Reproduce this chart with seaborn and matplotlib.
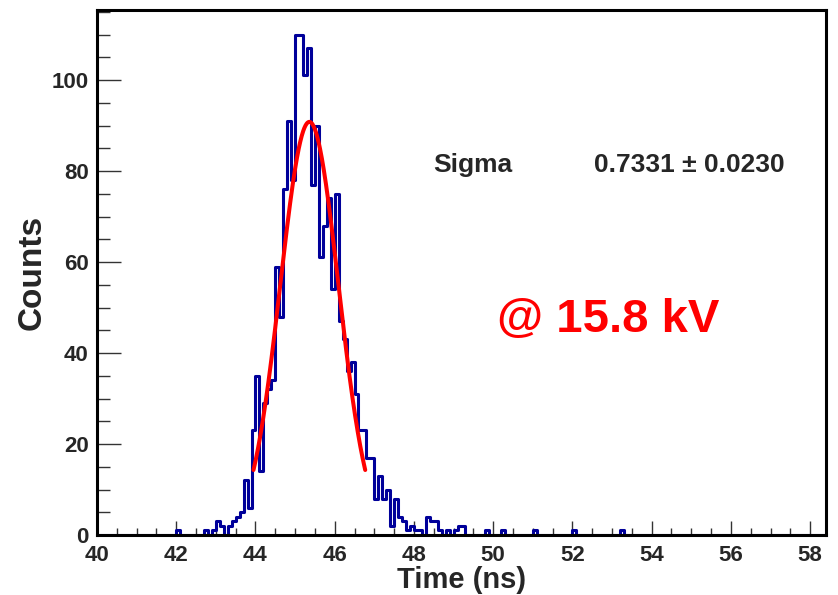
import numpy as np
import pandas as pd
import seaborn as sns
import matplotlib
matplotlib.use("Agg")
import matplotlib.pyplot as plt
from matplotlib.ticker import MultipleLocator

# ---- data (bin width 0.1 ns, range 40 - 58.4 ns) ----
bin_low = 40.0
bin_high = 58.4
bin_width = 0.1

# centres of non-empty bins and their counts
time_centres = [
    42.05, 42.75, 42.95, 43.05, 43.15, 43.35, 43.45, 43.55, 43.65,
    43.75, 43.85, 43.95, 44.05, 44.15, 44.25, 44.35, 44.45, 44.55, 44.65,
    44.75, 44.85, 44.95, 45.05, 45.15, 45.25, 45.35, 45.45, 45.55, 45.65,
    45.75, 45.85, 45.95, 46.05, 46.15, 46.25, 46.35, 46.45, 46.55, 46.65,
    46.75, 46.85, 46.95, 47.05, 47.15, 47.25, 47.35, 47.45, 47.55, 47.65,
    47.75, 47.85, 47.95, 48.05, 48.15, 48.35, 48.45, 48.55, 48.65,
    48.85, 49.05, 49.15, 49.25, 49.85, 50.25, 51.05, 52.05, 53.25,
]
counts = [
    1, 1, 1, 3, 2, 2, 3, 4, 5,
    12, 6, 23, 35, 14, 29, 32, 34, 59, 48,
    76, 91, 78, 110, 110, 101, 107, 77, 90, 61,
    68, 74, 54, 75, 47, 43, 36, 38, 31, 23,
    23, 17, 17, 8, 13, 8, 10, 2, 8, 4,
    3, 1, 2, 1, 1, 4, 3, 3, 1,
    1, 1, 2, 2, 1, 1, 1, 1, 1,
]

# Gaussian fit parameters (constant, mean, sigma) and fit range
fit_constant = 90.8
fit_mean = 45.36
fit_sigma = 0.7331
fit_sigma_err = 0.0230
fit_range = [43.95, 46.77]

x_ticks = [40, 42, 44, 46, 48, 50, 52, 54, 56, 58]
y_ticks = [0, 20, 40, 60, 80, 100]
annotation = "@ 15.8 kV"

# ---- build tables ----
edges = [round(v, 2) for v in np.arange(bin_low, bin_high + bin_width / 2, bin_width)]
df = pd.DataFrame({"time": time_centres, "counts": counts})
xf = np.linspace(fit_range[0], fit_range[1], 300)
fit_df = pd.DataFrame({"time": xf,
                       "fit": fit_constant * np.exp(-0.5 * ((xf - fit_mean) / fit_sigma) ** 2)})

# ---- style ----
sns.set_theme(style="white")
plt.rcParams["font.family"] = ["Liberation Sans", "DejaVu Sans"]
plt.rcParams["font.weight"] = "bold"

W, H = 838, 595
fig = plt.figure(figsize=(W / 100, H / 100), dpi=100)
ax = fig.add_axes([97 / W, 1 - 535 / H, (826 - 97) / W, (535 - 9.5) / H])

sns.histplot(data=df, x="time", weights="counts", bins=edges, element="step",
             fill=False, color="#00009a", linewidth=2.2, ax=ax)
sns.lineplot(data=fit_df, x="time", y="fit", color="#ff0000", linewidth=2.9, ax=ax)

ax.set_xlim(bin_low, bin_high)
ax.set_ylim(0, 115.5)
ax.set_xticks(x_ticks)
ax.set_yticks(y_ticks)
ax.xaxis.set_minor_locator(MultipleLocator(0.5))
ax.yaxis.set_minor_locator(MultipleLocator(5))
ax.tick_params(axis="x", which="major", direction="in", length=10, width=1.0,
               color="#333333", labelsize=16, pad=7, bottom=True)
ax.tick_params(axis="x", which="minor", direction="in", length=5, width=1.0,
               color="#333333", bottom=True)
ax.tick_params(axis="y", which="major", direction="in", length=17, width=1.0,
               color="#333333", labelsize=16, pad=6, left=True)
ax.tick_params(axis="y", which="minor", direction="in", length=9, width=1.0,
               color="#333333", left=True)
for lab in ax.get_xticklabels() + ax.get_yticklabels():
    lab.set_fontweight("bold")

for side in ["left", "bottom", "right", "top"]:
    ax.spines[side].set_visible(True)
    ax.spines[side].set_color("black")
    ax.spines[side].set_linewidth(2.2)

ax.set_xlabel("Time (ns)", fontsize=21, fontweight="bold")
ax.xaxis.set_label_coords(0.5, -0.101)
ax.xaxis.label.set_va("baseline")
ax.set_ylabel("Counts", fontsize=24, fontweight="bold")
ax.yaxis.set_label_coords(-0.089, 0.5)
ax.yaxis.label.set_va("center")

ax.text(48.49, 79.8, "Sigma", fontsize=19, fontweight="bold", ha="left", va="baseline")
ax.text(52.55, 79.8, f"{fit_sigma:.4f} \u00b1 {fit_sigma_err:.4f}", fontsize=19,
        fontweight="bold", ha="left", va="baseline")
ax.text(52.9, 47.2, annotation, fontsize=34, fontweight="bold", color="#ff0000",
        ha="center", va="center")

fig.savefig("out.png", dpi=100)
